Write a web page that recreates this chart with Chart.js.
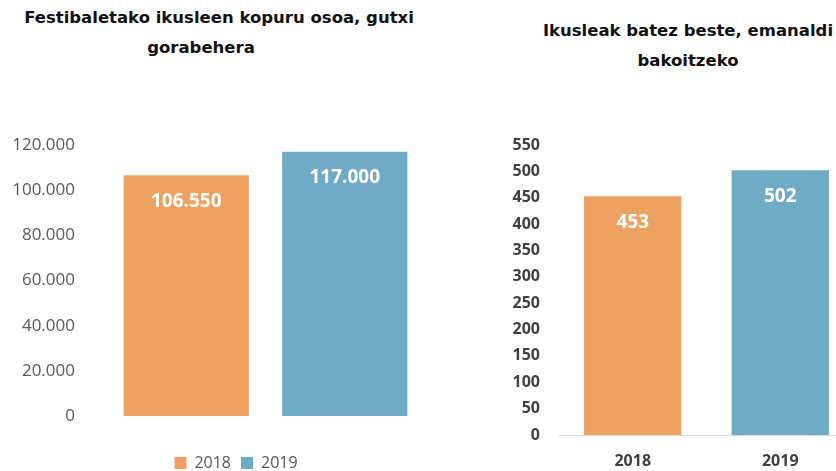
<!DOCTYPE html>
<html lang="eu">
<head>
    <meta charset="UTF-8">
    <title>Ikusleak 2018-2019</title>
    <script src="https://cdn.jsdelivr.net/npm/chart.js"></script>
    <style>
        body { margin: 0; width: 836px; height: 471px; overflow: hidden; background: #fff; position: relative; }
        .title { position: absolute; font-family: "DejaVu Sans", Verdana, sans-serif; font-weight: bold;
                 font-size: 16.5px; line-height: 30px; color: #111; white-space: nowrap; }
        .title div { text-align: center; }
        .box { position: absolute; top: 0; }
    </style>
</head>
<body>
    <!-- Left title -->
    <div class="title" style="left:0; top:3px; width:440px;">
        <div style="margin-left:-2px">Festibaletako ikusleen kopuru osoa, gutxi</div>
        <div style="margin-left:-38px">gorabehera</div>
    </div>
    <!-- Right title -->
    <div class="title" style="left:488px; top:16px; width:400px;">
        <div>Ikusleak batez beste, emanaldi</div>
        <div>bakoitzeko</div>
    </div>

    <div class="box" style="left:0; width:472px; height:481px;"><canvas id="totalChart"></canvas></div>
    <div class="box" style="left:420px; width:450px; height:471px;"><canvas id="avgChart"></canvas></div>

    <script>
        // data
        const years = ['2018', '2019'];
        const totalViewers = [106550, 117000];
        const avgViewers = [453, 502];
        const totalTicks = [0, 20000, 40000, 60000, 80000, 100000, 120000];
        const avgTicks = [0, 50, 100, 150, 200, 250, 300, 350, 400, 450, 500, 550];

        const barColors = ['#EDA262', '#70ABC6'];

        function fmt(v) {
            return String(v).replace(/\B(?=(\d{3})+(?!\d))/g, '.');
        }

        // white value labels inside the top of each bar
        const valueLabels = {
            id: 'valueLabels',
            afterDatasetsDraw(chart) {
                const ctx = chart.ctx;
                ctx.save();
                ctx.fillStyle = '#fff';
                ctx.font = 'bold 19px "Open Sans", sans-serif';
                ctx.textAlign = 'center';
                ctx.textBaseline = 'middle';
                chart.data.datasets.forEach((ds, i) => {
                    chart.getDatasetMeta(i).data.forEach((bar, j) => {
                        ctx.fillText(fmt(ds.data[j]), bar.x, bar.y + 26);
                    });
                });
                ctx.restore();
            }
        };

        // left chart: total viewers
        new Chart(document.getElementById('totalChart'), {
            type: 'bar',
            data: {
                labels: [''],
                datasets: years.map((y, i) => ({
                    label: y,
                    data: [totalViewers[i]],
                    backgroundColor: barColors[i],
                    categoryPercentage: 1,
                    barPercentage: 0.79
                }))
            },
            options: {
                responsive: true,
                maintainAspectRatio: false,
                animation: false,
                layout: { padding: { left: 0, right: 0, top: 145, bottom: 0 } },
                plugins: {
                    tooltip: { enabled: false },
                    legend: {
                        position: 'bottom',
                        labels: {
                            boxWidth: 12, boxHeight: 12, padding: 10,
                            color: '#595959',
                            font: { family: '"Open Sans", sans-serif', size: 16 }
                        }
                    }
                },
                scales: {
                    x: {
                        grid: { display: false },
                        border: { display: false },
                        ticks: { display: false },
                        afterFit: s => { s.height = 29; }
                    },
                    y: {
                        min: 0, max: 120000,
                        afterBuildTicks: s => { s.ticks = totalTicks.map(v => ({ value: v })); },
                        grid: { display: false, drawTicks: false },
                        border: { display: false },
                        ticks: {
                            padding: 32,
                            color: '#595959',
                            font: { family: '"Open Sans", sans-serif', size: 17 },
                            callback: v => fmt(v)
                        },
                        afterFit: s => { s.width = 107; }
                    },
                    // empty spacer on the right so the legend sits where the original has it
                    yRight: {
                        position: 'right',
                        grid: { display: false, drawTicks: false },
                        border: { display: false },
                        ticks: { display: false },
                        afterFit: s => { s.width = 48; }
                    }
                }
            },
            plugins: [valueLabels]
        });

        // right chart: average viewers per show
        new Chart(document.getElementById('avgChart'), {
            type: 'bar',
            data: {
                labels: years,
                datasets: [{
                    data: avgViewers,
                    backgroundColor: barColors,
                    categoryPercentage: 1,
                    barPercentage: 0.66
                }]
            },
            options: {
                responsive: true,
                maintainAspectRatio: false,
                animation: false,
                layout: { padding: { left: 0, right: 16, top: 145, bottom: 0 } },
                plugins: {
                    tooltip: { enabled: false },
                    legend: { display: false }
                },
                scales: {
                    x: {
                        grid: { display: false, drawTicks: false },
                        border: { display: true, color: '#d9d9d9', width: 1 },
                        ticks: {
                            padding: 17,
                            color: '#404040',
                            font: { family: '"Open Sans", sans-serif', size: 16, weight: 'bold' }
                        },
                        afterFit: s => { s.height = 36; }
                    },
                    y: {
                        min: 0, max: 550,
                        afterBuildTicks: s => { s.ticks = avgTicks.map(v => ({ value: v })); },
                        grid: { display: false, drawTicks: false },
                        border: { display: false },
                        ticks: {
                            padding: 19,
                            color: '#404040',
                            font: { family: '"Open Sans", sans-serif', size: 16, weight: 'bold' }
                        },
                        afterFit: s => { s.width = 139; }
                    }
                }
            },
            plugins: [valueLabels]
        });
    </script>
</body>
</html>
